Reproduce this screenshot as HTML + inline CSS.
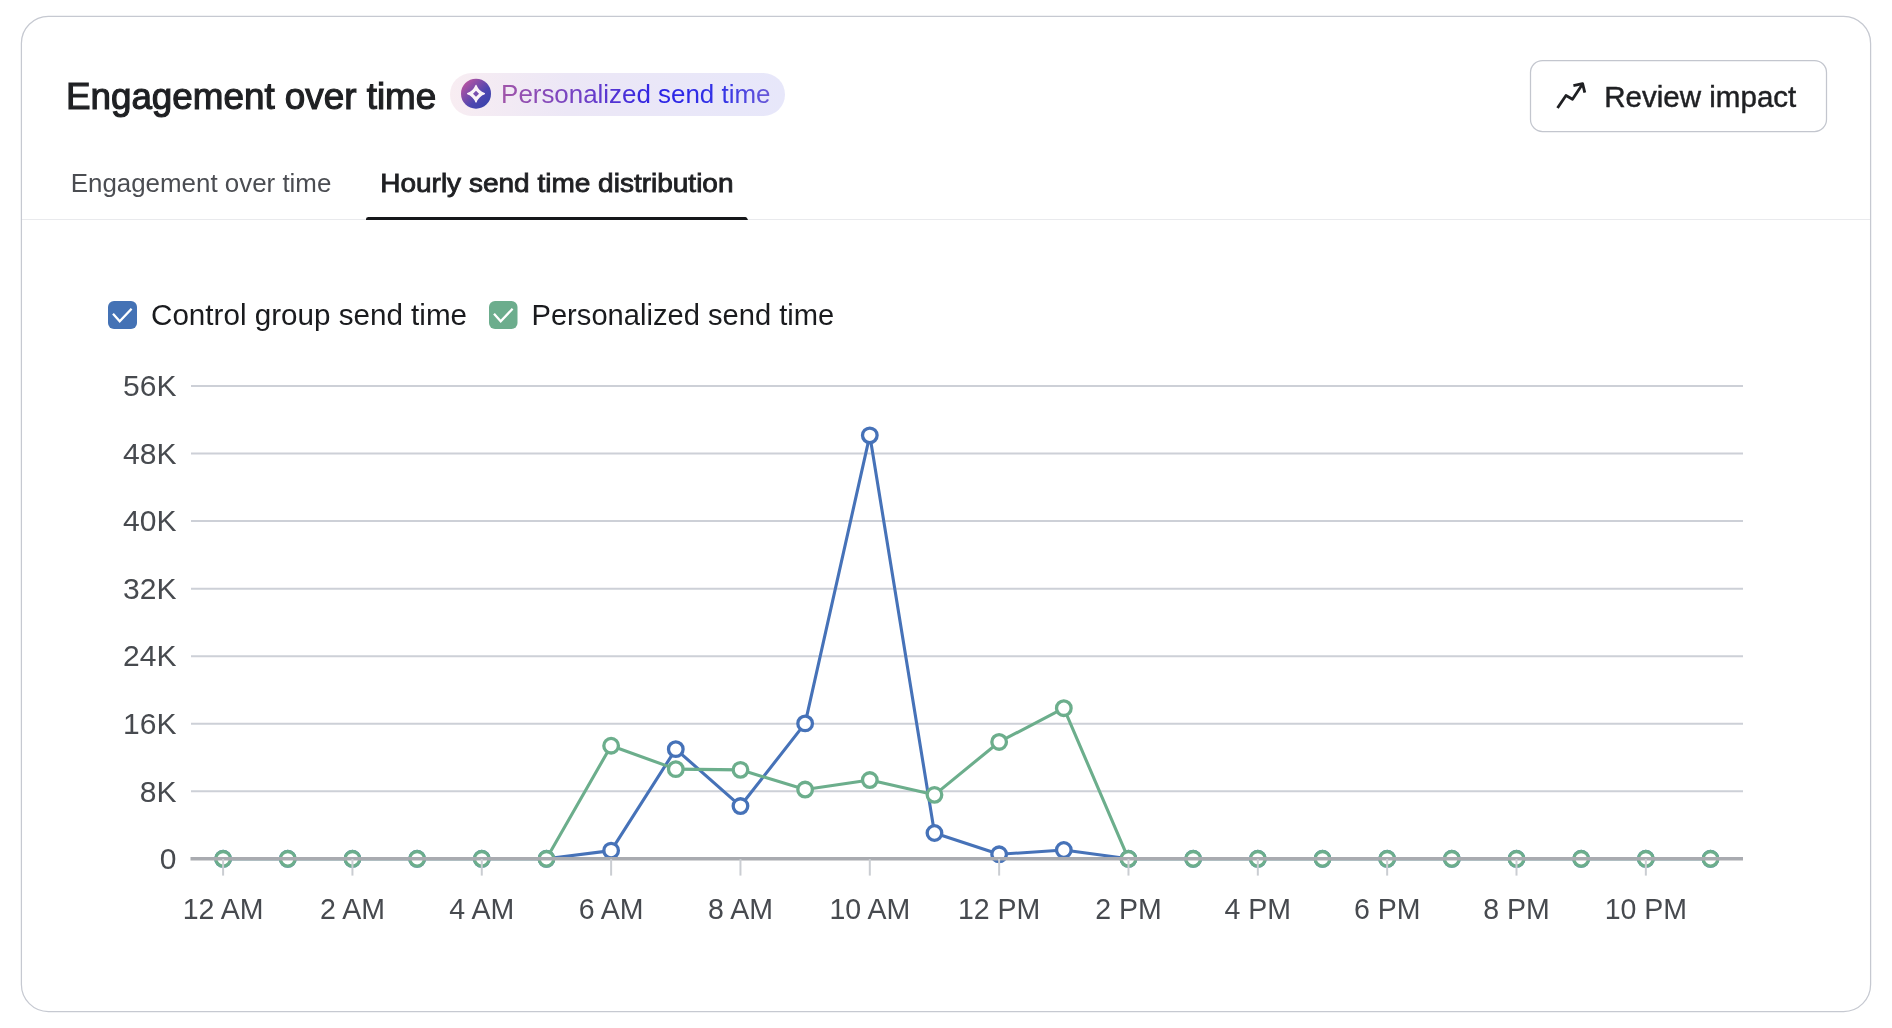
<!DOCTYPE html>
<html><head><meta charset="utf-8"><style>
html,body{margin:0;padding:0;background:#fff;width:1892px;height:1028px;overflow:hidden}
svg{position:absolute;left:0;top:0;display:block;will-change:transform}
text{font-family:"Liberation Sans",sans-serif}
</style></head><body>
<svg width="1892" height="1028" viewBox="0 0 1892 1028">
<defs>
<linearGradient id="bbg" x1="0" y1="0" x2="1" y2="0">
<stop offset="0" stop-color="#f8edf2"/><stop offset="0.35" stop-color="#ece7f6"/><stop offset="1" stop-color="#e7e7fa"/>
</linearGradient>
<linearGradient id="btx" x1="503" y1="0" x2="770" y2="0" gradientUnits="userSpaceOnUse">
<stop offset="0" stop-color="#a055aa"/><stop offset="0.3" stop-color="#7040c6"/><stop offset="0.58" stop-color="#2a22e6"/><stop offset="0.82" stop-color="#3434e6"/><stop offset="1" stop-color="#6a5ad8"/>
</linearGradient>
<linearGradient id="bic" x1="0" y1="0" x2="1" y2="1">
<stop offset="0" stop-color="#d2589f"/><stop offset="0.6" stop-color="#4e46b0"/><stop offset="1" stop-color="#3342aa"/>
</linearGradient>
</defs>
<rect x="21.4" y="16.4" width="1849.2" height="995.1" rx="27" ry="27" fill="#fff" stroke="#c6c9d1" stroke-width="1.25"/>
<rect x="450" y="73" width="335" height="43" rx="21.5" fill="url(#bbg)"/>
<circle cx="476" cy="93.7" r="15" fill="url(#bic)"/>
<path d="M476 85.4 Q478.4 91.3 484.4 93.7 Q478.4 96.1 476 102.0 Q473.6 96.1 467.6 93.7 Q473.6 91.3 476 85.4 Z" fill="#fbf3f7" stroke="#fbf3f7" stroke-width="1.3" stroke-linejoin="round"/>
<path d="M476 90.7 L479 93.7 L476 96.7 L473 93.7 Z" fill="#7a4fae"/>
<rect x="1530.5" y="60.5" width="296" height="71" rx="12" fill="#fff" stroke="#c3c6ce" stroke-width="1.25"/>
<path d="M1557.5 108 L1566 95.5 L1572.5 99.2 L1582.6 84" fill="none" stroke="#1f2023" stroke-width="2.8" stroke-linejoin="round"/>
<path d="M1573.4 85.6 L1582.6 83.6 L1584.8 92.6" fill="none" stroke="#1f2023" stroke-width="2.8" stroke-linejoin="round"/>
<line x1="22" y1="219.5" x2="1870" y2="219.5" stroke="#e9eaed" stroke-width="1.1"/>
<path d="M366 220 L366 219 Q366 217 368.5 217 L745.5 217 Q747 217 748 220 Z" fill="#16171a"/>
<rect x="108" y="301" width="29" height="28" rx="6" fill="#4472b5"/>
<path d="M113 313.8 L119.7 321.3 L131.6 308.7" fill="none" stroke="#fff" stroke-width="2.3"/>
<rect x="489" y="301" width="28.5" height="28" rx="6" fill="#6cad8d"/>
<path d="M494 313.8 L500.7 321.3 L512.6 308.7" fill="none" stroke="#fff" stroke-width="2.3"/>
<text x="65.90" y="108.8" font-size="36.5" font-weight="400" fill="#1f2023" stroke="#1f2023" stroke-width="1.15" textLength="370.34" lengthAdjust="spacingAndGlyphs">Engagement over time</text><text x="501.10" y="102.9" font-size="26" font-weight="400" fill="url(#btx)" textLength="269.35" lengthAdjust="spacingAndGlyphs">Personalized send time</text><text x="1604.20" y="106.9" font-size="29" font-weight="400" fill="#1f2023" stroke="#1f2023" stroke-width="0.45" textLength="192.15" lengthAdjust="spacingAndGlyphs">Review impact</text><text x="70.70" y="192.2" font-size="26" font-weight="400" fill="#4b4d52" textLength="260.67" lengthAdjust="spacingAndGlyphs">Engagement over time</text><text x="380.20" y="192.3" font-size="26" font-weight="400" fill="#1f2023" stroke="#1f2023" stroke-width="0.85" textLength="353.34" lengthAdjust="spacingAndGlyphs">Hourly send time distribution</text><text x="151.00" y="324.8" font-size="29" font-weight="400" fill="#1a1b1e" textLength="316.02" lengthAdjust="spacingAndGlyphs">Control group send time</text><text x="531.50" y="324.8" font-size="29" font-weight="400" fill="#1a1b1e" textLength="302.75" lengthAdjust="spacingAndGlyphs">Personalized send time</text>
<g stroke="#cdd0d7" stroke-width="2"><line x1="191" y1="386.00" x2="1743" y2="386.00"/><line x1="191" y1="453.54" x2="1743" y2="453.54"/><line x1="191" y1="521.09" x2="1743" y2="521.09"/><line x1="191" y1="588.63" x2="1743" y2="588.63"/><line x1="191" y1="656.17" x2="1743" y2="656.17"/><line x1="191" y1="723.71" x2="1743" y2="723.71"/><line x1="191" y1="791.26" x2="1743" y2="791.26"/></g>
<g font-size="30" fill="#474a4f"><text x="176.50" y="396.30" text-anchor="end" textLength="53.38" lengthAdjust="spacingAndGlyphs">56K</text><text x="176.50" y="463.84" text-anchor="end" textLength="53.38" lengthAdjust="spacingAndGlyphs">48K</text><text x="176.50" y="531.39" text-anchor="end" textLength="53.38" lengthAdjust="spacingAndGlyphs">40K</text><text x="176.50" y="598.93" text-anchor="end" textLength="53.38" lengthAdjust="spacingAndGlyphs">32K</text><text x="176.50" y="666.47" text-anchor="end" textLength="53.38" lengthAdjust="spacingAndGlyphs">24K</text><text x="176.50" y="734.01" text-anchor="end" textLength="53.38" lengthAdjust="spacingAndGlyphs">16K</text><text x="176.50" y="801.56" text-anchor="end" textLength="36.69" lengthAdjust="spacingAndGlyphs">8K</text><text x="176.50" y="869.10" text-anchor="end" textLength="16.68" lengthAdjust="spacingAndGlyphs">0</text><text x="223.10" y="919.00" text-anchor="middle" textLength="80.79" lengthAdjust="spacingAndGlyphs">12 AM</text><text x="352.44" y="919.00" text-anchor="middle" textLength="64.94" lengthAdjust="spacingAndGlyphs">2 AM</text><text x="481.78" y="919.00" text-anchor="middle" textLength="64.94" lengthAdjust="spacingAndGlyphs">4 AM</text><text x="611.12" y="919.00" text-anchor="middle" textLength="64.94" lengthAdjust="spacingAndGlyphs">6 AM</text><text x="740.46" y="919.00" text-anchor="middle" textLength="64.94" lengthAdjust="spacingAndGlyphs">8 AM</text><text x="869.80" y="919.00" text-anchor="middle" textLength="80.79" lengthAdjust="spacingAndGlyphs">10 AM</text><text x="999.14" y="919.00" text-anchor="middle" textLength="82.36" lengthAdjust="spacingAndGlyphs">12 PM</text><text x="1128.48" y="919.00" text-anchor="middle" textLength="66.52" lengthAdjust="spacingAndGlyphs">2 PM</text><text x="1257.82" y="919.00" text-anchor="middle" textLength="66.52" lengthAdjust="spacingAndGlyphs">4 PM</text><text x="1387.16" y="919.00" text-anchor="middle" textLength="66.52" lengthAdjust="spacingAndGlyphs">6 PM</text><text x="1516.50" y="919.00" text-anchor="middle" textLength="66.52" lengthAdjust="spacingAndGlyphs">8 PM</text><text x="1645.84" y="919.00" text-anchor="middle" textLength="82.36" lengthAdjust="spacingAndGlyphs">10 PM</text></g>
<polyline points="223.10,858.80 287.77,858.80 352.44,858.80 417.11,858.80 481.78,858.80 546.45,858.80 611.12,850.59 675.79,749.13 740.46,806.07 805.13,723.41 869.80,435.33 934.47,832.98 999.14,854.30 1063.81,850.00 1128.48,858.80 1193.15,858.80 1257.82,858.80 1322.49,858.80 1387.16,858.80 1451.83,858.80 1516.50,858.80 1581.17,858.80 1645.84,858.80 1710.51,858.80" fill="none" stroke="#4672b8" stroke-width="3.1" stroke-linejoin="round"/><circle cx="223.10" cy="858.80" r="7.3" fill="#fff" stroke="#4672b8" stroke-width="3.3"/><circle cx="287.77" cy="858.80" r="7.3" fill="#fff" stroke="#4672b8" stroke-width="3.3"/><circle cx="352.44" cy="858.80" r="7.3" fill="#fff" stroke="#4672b8" stroke-width="3.3"/><circle cx="417.11" cy="858.80" r="7.3" fill="#fff" stroke="#4672b8" stroke-width="3.3"/><circle cx="481.78" cy="858.80" r="7.3" fill="#fff" stroke="#4672b8" stroke-width="3.3"/><circle cx="546.45" cy="858.80" r="7.3" fill="#fff" stroke="#4672b8" stroke-width="3.3"/><circle cx="611.12" cy="850.59" r="7.3" fill="#fff" stroke="#4672b8" stroke-width="3.3"/><circle cx="675.79" cy="749.13" r="7.3" fill="#fff" stroke="#4672b8" stroke-width="3.3"/><circle cx="740.46" cy="806.07" r="7.3" fill="#fff" stroke="#4672b8" stroke-width="3.3"/><circle cx="805.13" cy="723.41" r="7.3" fill="#fff" stroke="#4672b8" stroke-width="3.3"/><circle cx="869.80" cy="435.33" r="7.3" fill="#fff" stroke="#4672b8" stroke-width="3.3"/><circle cx="934.47" cy="832.98" r="7.3" fill="#fff" stroke="#4672b8" stroke-width="3.3"/><circle cx="999.14" cy="854.30" r="7.3" fill="#fff" stroke="#4672b8" stroke-width="3.3"/><circle cx="1063.81" cy="850.00" r="7.3" fill="#fff" stroke="#4672b8" stroke-width="3.3"/><circle cx="1128.48" cy="858.80" r="7.3" fill="#fff" stroke="#4672b8" stroke-width="3.3"/><circle cx="1193.15" cy="858.80" r="7.3" fill="#fff" stroke="#4672b8" stroke-width="3.3"/><circle cx="1257.82" cy="858.80" r="7.3" fill="#fff" stroke="#4672b8" stroke-width="3.3"/><circle cx="1322.49" cy="858.80" r="7.3" fill="#fff" stroke="#4672b8" stroke-width="3.3"/><circle cx="1387.16" cy="858.80" r="7.3" fill="#fff" stroke="#4672b8" stroke-width="3.3"/><circle cx="1451.83" cy="858.80" r="7.3" fill="#fff" stroke="#4672b8" stroke-width="3.3"/><circle cx="1516.50" cy="858.80" r="7.3" fill="#fff" stroke="#4672b8" stroke-width="3.3"/><circle cx="1581.17" cy="858.80" r="7.3" fill="#fff" stroke="#4672b8" stroke-width="3.3"/><circle cx="1645.84" cy="858.80" r="7.3" fill="#fff" stroke="#4672b8" stroke-width="3.3"/><circle cx="1710.51" cy="858.80" r="7.3" fill="#fff" stroke="#4672b8" stroke-width="3.3"/>
<polyline points="223.10,858.80 287.77,858.80 352.44,858.80 417.11,858.80 481.78,858.80 546.45,858.80 611.12,745.72 675.79,769.15 740.46,769.85 805.13,789.56 869.80,780.05 934.47,794.86 999.14,741.93 1063.81,708.20 1128.48,858.80 1193.15,858.80 1257.82,858.80 1322.49,858.80 1387.16,858.80 1451.83,858.80 1516.50,858.80 1581.17,858.80 1645.84,858.80 1710.51,858.80" fill="none" stroke="#6cae8c" stroke-width="3.1" stroke-linejoin="round"/><circle cx="223.10" cy="858.80" r="7.3" fill="#fff" stroke="#6cae8c" stroke-width="3.3"/><circle cx="287.77" cy="858.80" r="7.3" fill="#fff" stroke="#6cae8c" stroke-width="3.3"/><circle cx="352.44" cy="858.80" r="7.3" fill="#fff" stroke="#6cae8c" stroke-width="3.3"/><circle cx="417.11" cy="858.80" r="7.3" fill="#fff" stroke="#6cae8c" stroke-width="3.3"/><circle cx="481.78" cy="858.80" r="7.3" fill="#fff" stroke="#6cae8c" stroke-width="3.3"/><circle cx="546.45" cy="858.80" r="7.3" fill="#fff" stroke="#6cae8c" stroke-width="3.3"/><circle cx="611.12" cy="745.72" r="7.3" fill="#fff" stroke="#6cae8c" stroke-width="3.3"/><circle cx="675.79" cy="769.15" r="7.3" fill="#fff" stroke="#6cae8c" stroke-width="3.3"/><circle cx="740.46" cy="769.85" r="7.3" fill="#fff" stroke="#6cae8c" stroke-width="3.3"/><circle cx="805.13" cy="789.56" r="7.3" fill="#fff" stroke="#6cae8c" stroke-width="3.3"/><circle cx="869.80" cy="780.05" r="7.3" fill="#fff" stroke="#6cae8c" stroke-width="3.3"/><circle cx="934.47" cy="794.86" r="7.3" fill="#fff" stroke="#6cae8c" stroke-width="3.3"/><circle cx="999.14" cy="741.93" r="7.3" fill="#fff" stroke="#6cae8c" stroke-width="3.3"/><circle cx="1063.81" cy="708.20" r="7.3" fill="#fff" stroke="#6cae8c" stroke-width="3.3"/><circle cx="1128.48" cy="858.80" r="7.3" fill="#fff" stroke="#6cae8c" stroke-width="3.3"/><circle cx="1193.15" cy="858.80" r="7.3" fill="#fff" stroke="#6cae8c" stroke-width="3.3"/><circle cx="1257.82" cy="858.80" r="7.3" fill="#fff" stroke="#6cae8c" stroke-width="3.3"/><circle cx="1322.49" cy="858.80" r="7.3" fill="#fff" stroke="#6cae8c" stroke-width="3.3"/><circle cx="1387.16" cy="858.80" r="7.3" fill="#fff" stroke="#6cae8c" stroke-width="3.3"/><circle cx="1451.83" cy="858.80" r="7.3" fill="#fff" stroke="#6cae8c" stroke-width="3.3"/><circle cx="1516.50" cy="858.80" r="7.3" fill="#fff" stroke="#6cae8c" stroke-width="3.3"/><circle cx="1581.17" cy="858.80" r="7.3" fill="#fff" stroke="#6cae8c" stroke-width="3.3"/><circle cx="1645.84" cy="858.80" r="7.3" fill="#fff" stroke="#6cae8c" stroke-width="3.3"/><circle cx="1710.51" cy="858.80" r="7.3" fill="#fff" stroke="#6cae8c" stroke-width="3.3"/>
<line x1="190.5" y1="858.8" x2="1743" y2="858.8" stroke="#a9abb0" stroke-width="3.6"/>
<g stroke="#cacdd2" stroke-width="2"><line x1="223.10" y1="859" x2="223.10" y2="875.6"/><line x1="352.44" y1="859" x2="352.44" y2="875.6"/><line x1="481.78" y1="859" x2="481.78" y2="875.6"/><line x1="611.12" y1="859" x2="611.12" y2="875.6"/><line x1="740.46" y1="859" x2="740.46" y2="875.6"/><line x1="869.80" y1="859" x2="869.80" y2="875.6"/><line x1="999.14" y1="859" x2="999.14" y2="875.6"/><line x1="1128.48" y1="859" x2="1128.48" y2="875.6"/><line x1="1257.82" y1="859" x2="1257.82" y2="875.6"/><line x1="1387.16" y1="859" x2="1387.16" y2="875.6"/><line x1="1516.50" y1="859" x2="1516.50" y2="875.6"/><line x1="1645.84" y1="859" x2="1645.84" y2="875.6"/></g>
</svg>
</body></html>
